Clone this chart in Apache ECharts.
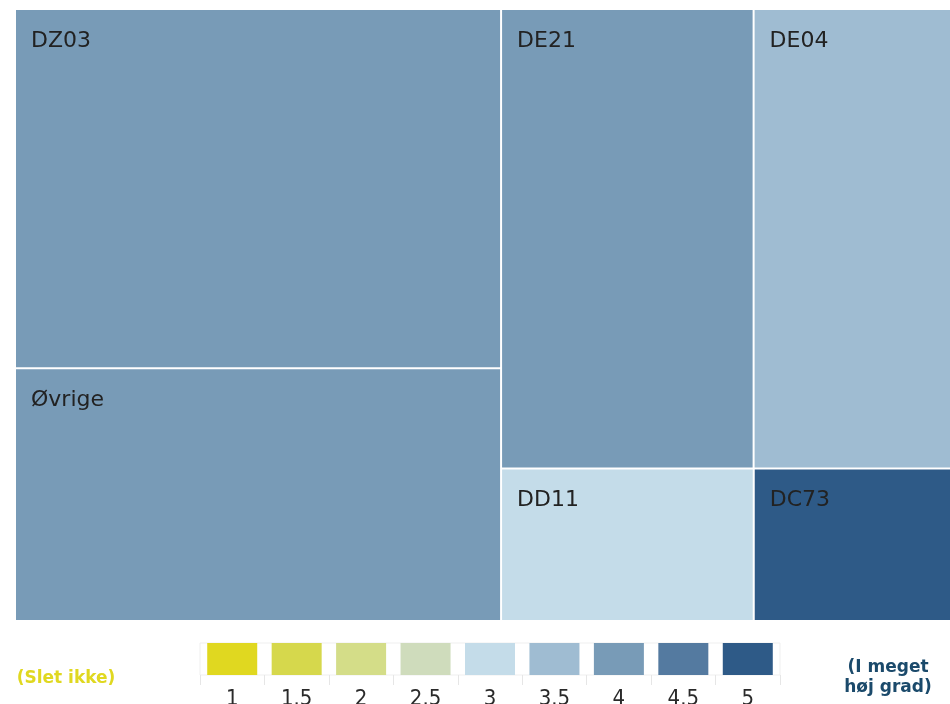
<!DOCTYPE html>
<html>
<head>
<meta charset="utf-8">
<script src="https://cdn.jsdelivr.net/npm/echarts@6/dist/echarts.min.js"></script>
<style>
  html, body { margin: 0; padding: 0; background: #fff; }
  #chart { width: 950px; height: 704px; }
</style>
</head>
<body>
<div id="chart"></div>
<script>
// Treemap tiles: name, size and score (1 = "Slet ikke", 5 = "I meget høj grad")
const names  = ['DZ03', 'Øvrige', 'DE21', 'DE04', 'DD11', 'DC73'];
const sizes  = [173.6, 122.2, 115.4, 90.2, 38.3, 29.9];
const scores = [4, 4, 4, 3.5, 3, 5];

// Colour scale steps
const scaleLabels = ['1', '1.5', '2', '2.5', '3', '3.5', '4', '4.5', '5'];
const scaleColors = ['#e0d820', '#d6d84c', '#d4dd88', '#cfdcbc', '#c4dce9',
                     '#9fbcd2', '#789bb7', '#547aa0', '#2e5a87'];

function colorFor(score) {
  return scaleColors[Math.round((score - 1) * 2)];
}

const treeData = names.map((n, i) => ({
  name: n,
  value: sizes[i],
  itemStyle: { color: colorFor(scores[i]) }
}));

const chart = echarts.init(document.getElementById('chart'));
chart.setOption({
  animation: false,
  textStyle: { fontFamily: 'DejaVu Sans' },
  grid: {
    left: 200, right: 170, top: 643, height: 32,
    outerBoundsMode: 'none', containLabel: false,
    show: true, borderColor: '#efefef', borderWidth: 1, backgroundColor: 'transparent'
  },
  xAxis: {
    type: 'category',
    data: scaleLabels,
    boundaryGap: true,
    axisLine: { show: false },
    axisTick: { show: true, length: 10, lineStyle: { color: '#e6e6e6', width: 1 } },
    axisLabel: {
      color: '#2a2a2a', fontSize: 22, margin: 13,
      fontFamily: 'DejaVu Sans Condensed, DejaVu Sans'
    },
    splitLine: { show: false }
  },
  yAxis: {
    type: 'value', min: 0, max: 1,
    show: false
  },
  series: [
    {
      type: 'bar',
      data: scaleColors.map(c => ({ value: 1, itemStyle: { color: c } })),
      barWidth: 50,
      silent: true
    },
    {
      type: 'treemap',
      left: 16, top: 10, right: 0, bottom: 84,
      roam: false,
      nodeClick: false,
      breadcrumb: { show: false },
      sort: 'desc',
      levels: [
        { itemStyle: { borderWidth: 0, gapWidth: 2, borderColor: '#fff' } }
      ],
      label: {
        show: true,
        position: [10, 15],
        color: '#222',
        fontSize: 22,
        fontFamily: 'DejaVu Sans'
      },
      itemStyle: { borderWidth: 0 },
      data: treeData
    }
  ],
  graphic: [
    {
      type: 'text', x: 66, y: 679,
      style: {
        text: '(Slet ikke)', fill: '#e0d820', font: 'bold 17px DejaVu Sans',
        align: 'center', verticalAlign: 'middle'
      }
    },
    {
      type: 'text', x: 888, y: 678,
      style: {
        text: '(I meget\nhøj grad)', fill: '#1b4a6b', font: 'bold 17px DejaVu Sans',
        lineHeight: 20, align: 'center', verticalAlign: 'middle'
      }
    }
  ]
});
</script>
</body>
</html>
